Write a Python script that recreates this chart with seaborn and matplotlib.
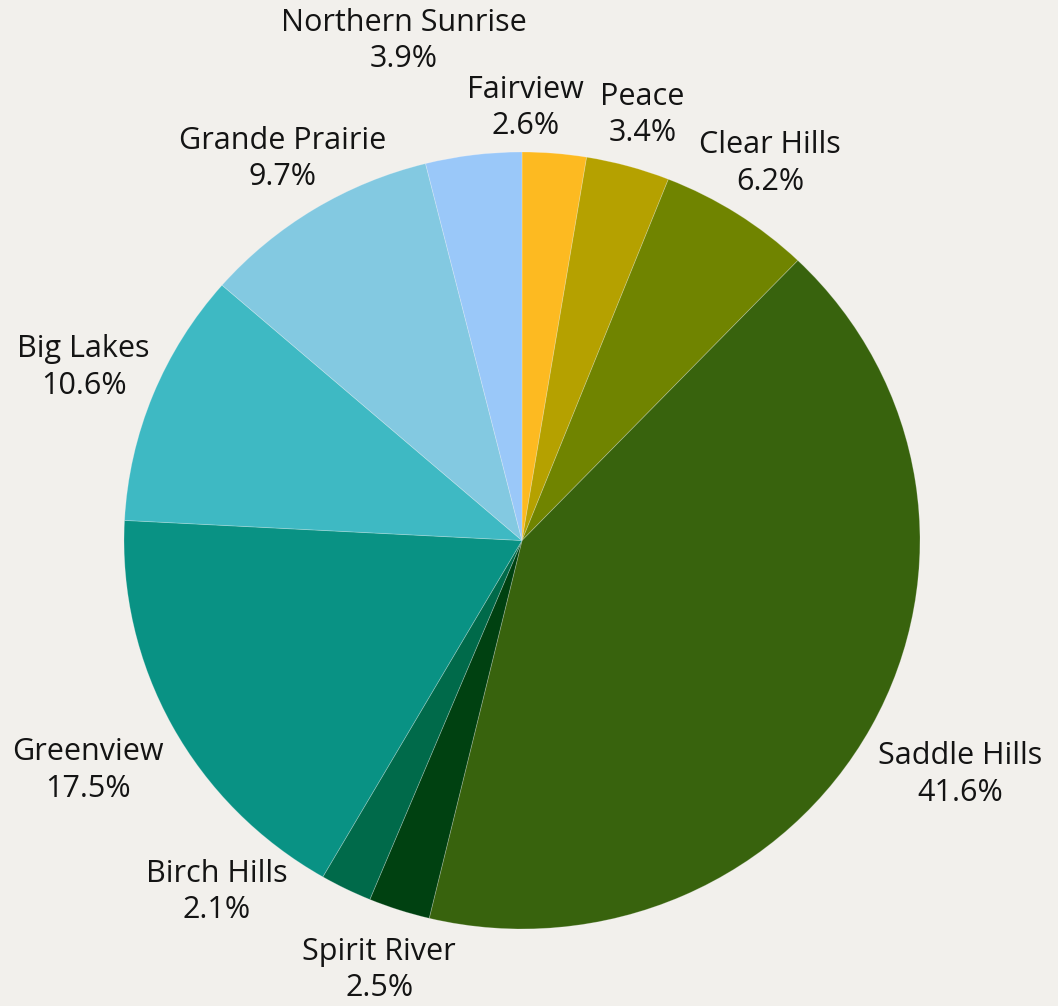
import numpy as np
import matplotlib
matplotlib.use("Agg")
import matplotlib.pyplot as plt
import seaborn as sns

sns.set_theme(style="white")
plt.rcParams['font.family'] = ['Open Sans', 'DejaVu Sans']

# data (clockwise from 12 o'clock)
regions = ["Fairview", "Peace", "Clear Hills", "Saddle Hills", "Spirit River",
           "Birch Hills", "Greenview", "Big Lakes", "Grande Prairie", "Northern Sunrise"]
shares = [2.6, 3.4, 6.2, 41.6, 2.5, 2.1, 17.5, 10.6, 9.7, 3.9]
colors = ["#FDBA21", "#B5A100", "#708400", "#38630D", "#004111",
          "#006A4A", "#099284", "#3EB9C3", "#83C9E1", "#9AC8F9"]

# label placement styling (radial distance, angle tweak in degrees)
label_dist = [1.113, 1.137, 1.154, 1.255, 1.163, 1.186, 1.241, 1.188, 1.151, 1.319]
label_dang = [4.2, 0, 0, 0, 0, -14.0, 0, 0, 0, 6.0]

bg = "#F2F0EC"
W, H = 1058, 1006
fig = plt.figure(figsize=(W / 100, H / 100), dpi=100, facecolor=bg)
ax = fig.add_axes([0, 0, 1, 1])
ax.set_facecolor(bg)

cx, cy, rx, ry = 522, 540.5, 398, 388.5
wedges, _ = ax.pie(shares, colors=colors, startangle=90, counterclock=False,
                   radius=1.0, center=(0, 0),
                   wedgeprops=dict(edgecolor=(1, 1, 1, 0.25), linewidth=0.6))
ax.set_aspect('auto')
ax.set_xlim(-cx / rx, (W - cx) / rx)
ax.set_ylim((cy - H) / ry, cy / ry)

total = sum(shares)
for w, name, val, d, da in zip(wedges, regions, shares, label_dist, label_dang):
    ang = np.deg2rad((w.theta1 + w.theta2) / 2 + da)
    ax.text(d * np.cos(ang), d * np.sin(ang), f"{name}\n{val / total * 100:.1f}%",
            ha='center', va='center', fontsize=22, color='#141414',
            linespacing=1.28)

ax.axis('off')
fig.savefig("out.png", dpi=100, facecolor=bg)
